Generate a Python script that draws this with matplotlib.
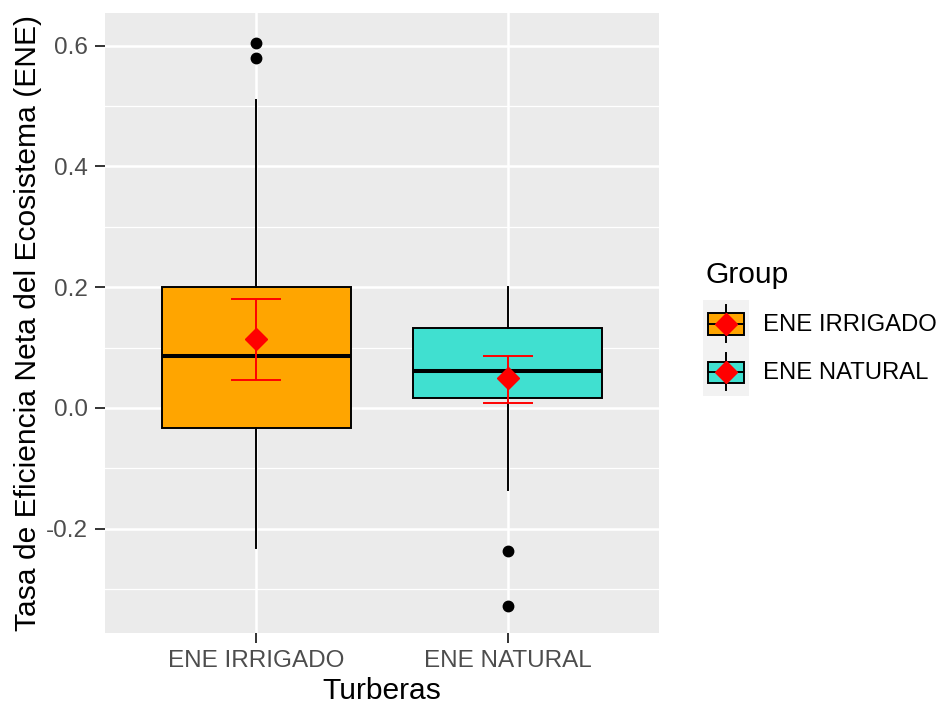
import matplotlib.pyplot as plt
import matplotlib.patches as mpatches
import matplotlib.lines as mlines
from matplotlib.legend_handler import HandlerBase
import numpy as np


# Datos de las turberas (resumen de las cajas)

grupos     = ["ENE IRRIGADO", "ENE NATURAL"]
colores    = ["#FFA500", "#40E0D0"]

q1         = [-0.033, 0.016]
mediana    = [0.086, 0.062]
q3         = [0.200, 0.133]
bigote_inf = [-0.232, -0.136]
bigote_sup = [0.510, 0.200]
atipicos   = [[0.605, 0.580], [-0.237, -0.328]]

media      = [0.114, 0.049]
err_inf    = [0.046, 0.009]
err_sup    = [0.180, 0.086]


class HandlerCaja(HandlerBase):
    # dibuja la clave de la leyenda: caja + bigote + diamante

    def create_artists(self, legend, orig_handle, xdescent, ydescent,
                       width, height, fontsize, trans):
        x0, y0 = -xdescent, -ydescent
        cx, cy = x0 + width / 2, y0 + height / 2
        fondo = mpatches.Rectangle((x0, y0), width, height, facecolor="#F2F2F2",
                                   edgecolor="none", transform=trans)
        bw, bh = width * 0.8, height * 0.44
        caja = mpatches.Rectangle((cx - bw / 2, cy - bh / 2), bw, bh,
                                  facecolor=orig_handle.get_facecolor(),
                                  edgecolor="black", lw=1.4, transform=trans)
        bigote = mlines.Line2D([cx, cx], [y0 + height * 0.12, y0 + height * 0.9],
                               color="black", lw=1.4, transform=trans)
        linea_med = mlines.Line2D([cx - bw / 2, cx + bw / 2], [cy, cy],
                                  color="black", lw=1.4, transform=trans)
        diamante = mlines.Line2D([cx], [cy], marker="D", color="red", ms=11.2,
                                 transform=trans)
        return [fondo, bigote, caja, linea_med, diamante]


plt.rcParams["font.family"] = ["Liberation Sans", "DejaVu Sans"]

fig = plt.figure(figsize=(9.47, 7.06), dpi=100)
ax = fig.add_axes([105 / 947, 1 - 633 / 706, (659 - 105) / 947, (633 - 12.7) / 706])

ax.set_facecolor("#EBEBEB")
for s in ax.spines.values():
    s.set_visible(False)

pos = np.arange(1, len(grupos) + 1)

stats = []
for i in range(len(grupos)):
    stats.append(dict(med=mediana[i], q1=q1[i], q3=q3[i],
                      whislo=bigote_inf[i], whishi=bigote_sup[i],
                      fliers=atipicos[i], label=grupos[i]))

bp = ax.bxp(stats, positions=pos, widths=0.75, patch_artist=True,
            showcaps=False, zorder=3,
            boxprops=dict(edgecolor="black", lw=1.4),
            whiskerprops=dict(color="black", lw=1.4),
            medianprops=dict(color="black", lw=2.9, solid_capstyle="butt"),
            flierprops=dict(marker="o", markerfacecolor="black",
                            markeredgecolor="black", markersize=7.5))

for patch, c in zip(bp["boxes"], colores):
    patch.set_facecolor(c)

# barras de error y medias en rojo
ax.vlines(pos, err_inf, err_sup, color="red", lw=1.4, zorder=4)
ax.hlines(err_inf, pos - 0.1, pos + 0.1, color="red", lw=1.4, zorder=4)
ax.hlines(err_sup, pos - 0.1, pos + 0.1, color="red", lw=1.4, zorder=4)
ax.plot(pos, media, "D", color="red", ms=11.5, zorder=5)

ax.set_xlim(0.4, 2.6)
ax.set_ylim(-0.3727, 0.6547)

ax.set_xticks(pos)
ax.set_xticklabels(grupos)
ax.set_yticks([-0.2, 0.0, 0.2, 0.4, 0.6])
ax.set_yticks([-0.3, -0.1, 0.1, 0.3, 0.5], minor=True)
ax.yaxis.set_major_formatter(plt.FuncFormatter(lambda v, p: f"{v:.1f}"))

ax.grid(True, which="major", color="white", lw=1.8, zorder=0)
ax.grid(True, which="minor", axis="y", color="white", lw=0.9, zorder=0)
ax.set_axisbelow(True)

ax.tick_params(which="major", length=7, width=1.4, color="#333333",
               labelcolor="#4D4D4D", labelsize=17.5, pad=5)
ax.tick_params(which="minor", length=0)

ax.set_xlabel("Turberas", fontsize=21.6, labelpad=4)
ax.set_ylabel("Tasa de Eficiencia Neta del Ecosistema (ENE)", fontsize=21.6, labelpad=3)

# leyenda: titulo aparte y claves debajo
fig.text(705 / 947, 1 - 283 / 706, "Group", fontsize=21.6, va="baseline")

handles = [mpatches.Patch(facecolor=c, label=g) for c, g in zip(colores, grupos)]
leg = fig.legend(handles=handles, labels=grupos,
                 handler_map={mpatches.Patch: HandlerCaja()},
                 loc="upper left", bbox_to_anchor=(703 / 947, 1 - 300 / 706),
                 frameon=False, fontsize=17.2,
                 handlelength=1.92, handleheight=2.72, labelspacing=0.0,
                 handletextpad=0.6, borderpad=0.0, borderaxespad=0)

fig.savefig("out.png", dpi=100)
